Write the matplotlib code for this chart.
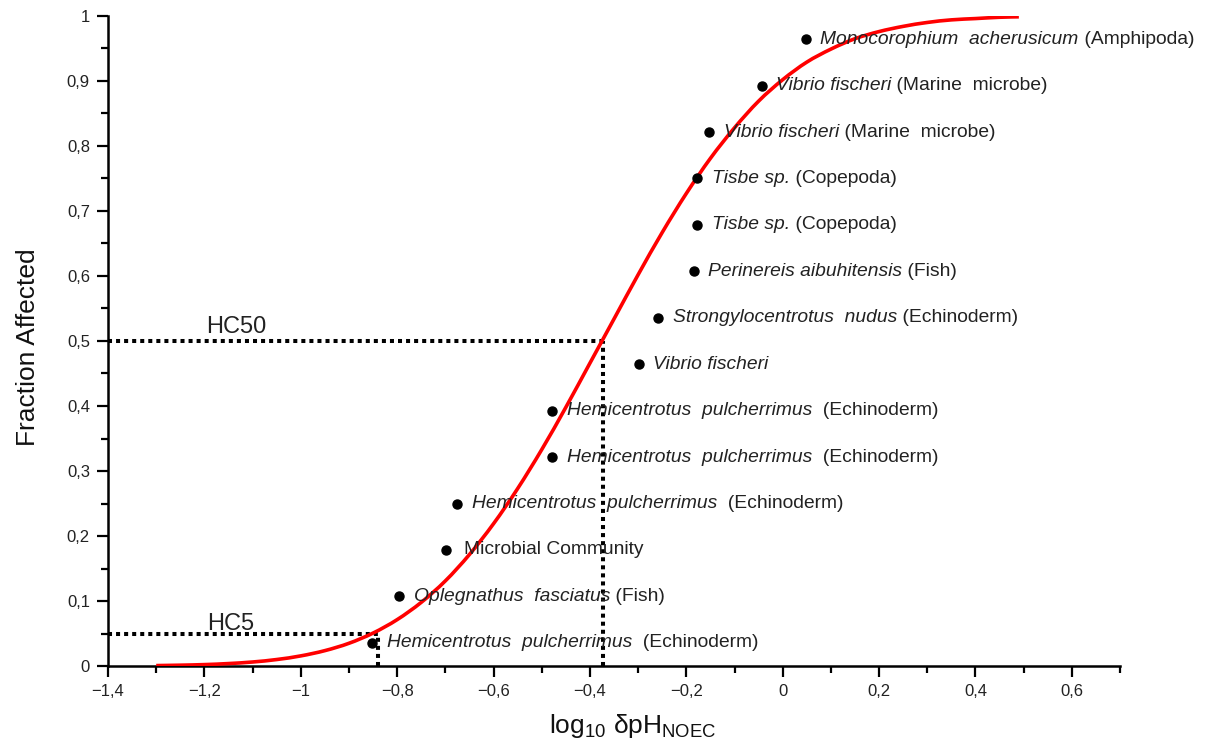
import matplotlib
matplotlib.use("Agg")
import matplotlib.pyplot as plt
from matplotlib.ticker import MultipleLocator, FuncFormatter
from matplotlib.path import Path
from matplotlib.patches import PathPatch

# ---- data ----
point_x = [-0.852, -0.796, -0.698, -0.675, -0.478, -0.478, -0.299, -0.258,
           -0.185, -0.177, -0.177, -0.152, -0.044, 0.048]
point_y = [0.036, 0.107, 0.179, 0.250, 0.321, 0.393, 0.464, 0.536,
           0.607, 0.679, 0.750, 0.821, 0.893, 0.964]
species = ["Hemicentrotus  pulcherrimus", "Oplegnathus  fasciatus", "",
           "Hemicentrotus  pulcherrimus", "Hemicentrotus  pulcherrimus",
           "Hemicentrotus  pulcherrimus", "Vibrio fischeri",
           "Strongylocentrotus  nudus", "Perinereis aibuhitensis",
           "Tisbe sp.", "Tisbe sp.", "Vibrio fischeri", "Vibrio fischeri",
           "Monocorophium  acherusicum"]
groups = ["  (Echinoderm)", " (Fish)", "Microbial Community", "  (Echinoderm)",
          "  (Echinoderm)", "  (Echinoderm)", "", " (Echinoderm)", " (Fish)",
          " (Copepoda)", " (Copepoda)", " (Marine  microbe)",
          " (Marine  microbe)", " (Amphipoda)"]

curve_x = [-1.30, -1.25, -1.20, -1.15, -1.10, -1.05, -1.00, -0.95, -0.90,
           -0.85, -0.80, -0.75, -0.70, -0.65, -0.60, -0.55, -0.50, -0.45,
           -0.40, -0.35, -0.30, -0.25, -0.20, -0.15, -0.10, -0.05, 0.00,
           0.05, 0.10, 0.15, 0.20, 0.25, 0.30, 0.35, 0.40, 0.45, 0.49]
curve_y = [0.0007, 0.0013, 0.0022, 0.0038, 0.0062, 0.010, 0.0156, 0.0237,
           0.035, 0.0507, 0.0714, 0.098, 0.131, 0.1716, 0.219, 0.273, 0.333,
           0.398, 0.466, 0.534, 0.602, 0.667, 0.727, 0.781, 0.828, 0.869,
           0.902, 0.929, 0.949, 0.965, 0.976, 0.984, 0.990, 0.994, 0.996,
           0.998, 0.9987]

hc50_x, hc50_y = -0.372, 0.50
hc5_x, hc5_y = -0.839, 0.05
hc_labels = ["HC50", "HC5"]

xticks = [-1.4, -1.2, -1.0, -0.8, -0.6, -0.4, -0.2, 0.0, 0.2, 0.4, 0.6]
yticks = [0, 0.1, 0.2, 0.3, 0.4, 0.5, 0.6, 0.7, 0.8, 0.9, 1.0]

# ---- figure ----
plt.rcParams['font.family'] = ['Liberation Sans', 'DejaVu Sans']
plt.rcParams['mathtext.fontset'] = 'custom'
plt.rcParams['mathtext.rm'] = 'Liberation Sans'
plt.rcParams['mathtext.it'] = 'Liberation Sans:italic'

fig = plt.figure(figsize=(12.11, 7.53), dpi=100)
ax = fig.add_axes([0.0892, 0.1155, 0.8357, 0.8633])

ax.set_xlim(-1.4, 0.7)
ax.set_ylim(0, 1)

# dotted reference lines
dot = dict(color='black', lw=2.9, linestyle=(0, (1, 1)), dash_capstyle='butt', zorder=2)
ax.plot([-1.4, hc50_x], [hc50_y, hc50_y], **dot)
ax.plot([hc50_x, hc50_x], [0, hc50_y], **dot)
ax.plot([-1.4, hc5_x], [hc5_y, hc5_y], **dot)
ax.plot([hc5_x, hc5_x], [0, hc5_y], **dot)

ax.text(-1.196, 0.512, hc_labels[0], fontsize=17, color='#222222',
        ha='left', va='baseline')
ax.text(-1.194, 0.055, hc_labels[1], fontsize=17, color='#222222',
        ha='left', va='baseline')

# fitted curve: drawn as a smooth (Catmull-Rom / Bezier) line through the read points
verts = [(curve_x[0], curve_y[0])]
codes = [Path.MOVETO]
n = len(curve_x)
for i in range(n - 1):
    p0 = (curve_x[max(i - 1, 0)], curve_y[max(i - 1, 0)])
    p1 = (curve_x[i], curve_y[i])
    p2 = (curve_x[i + 1], curve_y[i + 1])
    p3 = (curve_x[min(i + 2, n - 1)], curve_y[min(i + 2, n - 1)])
    c1 = (p1[0] + (p2[0] - p0[0]) / 6.0, p1[1] + (p2[1] - p0[1]) / 6.0)
    c2 = (p2[0] - (p3[0] - p1[0]) / 6.0, p2[1] - (p3[1] - p1[1]) / 6.0)
    verts += [c1, c2, p2]
    codes += [Path.CURVE4, Path.CURVE4, Path.CURVE4]
ax.add_patch(PathPatch(Path(verts, codes), facecolor='none', edgecolor='#ff0000',
                       lw=2.6, zorder=3, capstyle='butt'))

# points
ax.plot(point_x, point_y, 'o', color='black', markersize=6.5, zorder=4)

# labels
lab_fs = 13.9
for x, y, sp, gr in zip(point_x, point_y, species, groups):
    if sp:
        t1 = ax.annotate(sp, xy=(x, y), xytext=(10.5, 0), textcoords='offset points',
                         fontsize=lab_fs, style='italic', color='#222222',
                         ha='left', va='center', zorder=5)
        if gr:
            ax.annotate(gr, xy=(1, 0), xycoords=t1, fontsize=lab_fs,
                        color='#222222', ha='left', va='bottom', zorder=5)
    else:
        ax.annotate(gr, xy=(x, y), xytext=(13, 0), textcoords='offset points',
                    fontsize=lab_fs, color='#222222', ha='left', va='center',
                    zorder=5)

# axes styling
for s in ['top', 'right']:
    ax.spines[s].set_visible(False)
for s in ['left', 'bottom']:
    ax.spines[s].set_linewidth(1.8)

ax.set_xticks(xticks)
ax.set_yticks(yticks)
ax.xaxis.set_minor_locator(MultipleLocator(0.1))
ax.yaxis.set_minor_locator(MultipleLocator(0.05))
ax.tick_params(which='major', direction='out', length=8, width=1.6,
               labelsize=12, pad=5)
ax.tick_params(which='minor', direction='out', length=5, width=1.6)


def fmt(v, pos):
    v = round(v, 2)
    if abs(v - round(v)) < 1e-9:
        s = str(int(round(v)))
    else:
        s = ('%.1f' % v)
    s = s.replace('.', ',').replace('-', '\u2212')
    return s


ax.xaxis.set_major_formatter(FuncFormatter(fmt))
ax.yaxis.set_major_formatter(FuncFormatter(fmt))
for lab in ax.get_xticklabels() + ax.get_yticklabels():
    lab.set_color('#222222')

ax.set_ylabel('Fraction Affected', fontsize=19, color='#111111')
ax.yaxis.label.set_va('center')
ax.yaxis.set_label_coords(-0.079, 0.49)
ax.set_xlabel(r'$\mathregular{log_{10}\ \delta pH_{NOEC}}$', fontsize=19,
              color='#111111')
ax.xaxis.set_label_coords(0.518, -0.07)

fig.savefig('out.png', dpi=100, facecolor='white')
